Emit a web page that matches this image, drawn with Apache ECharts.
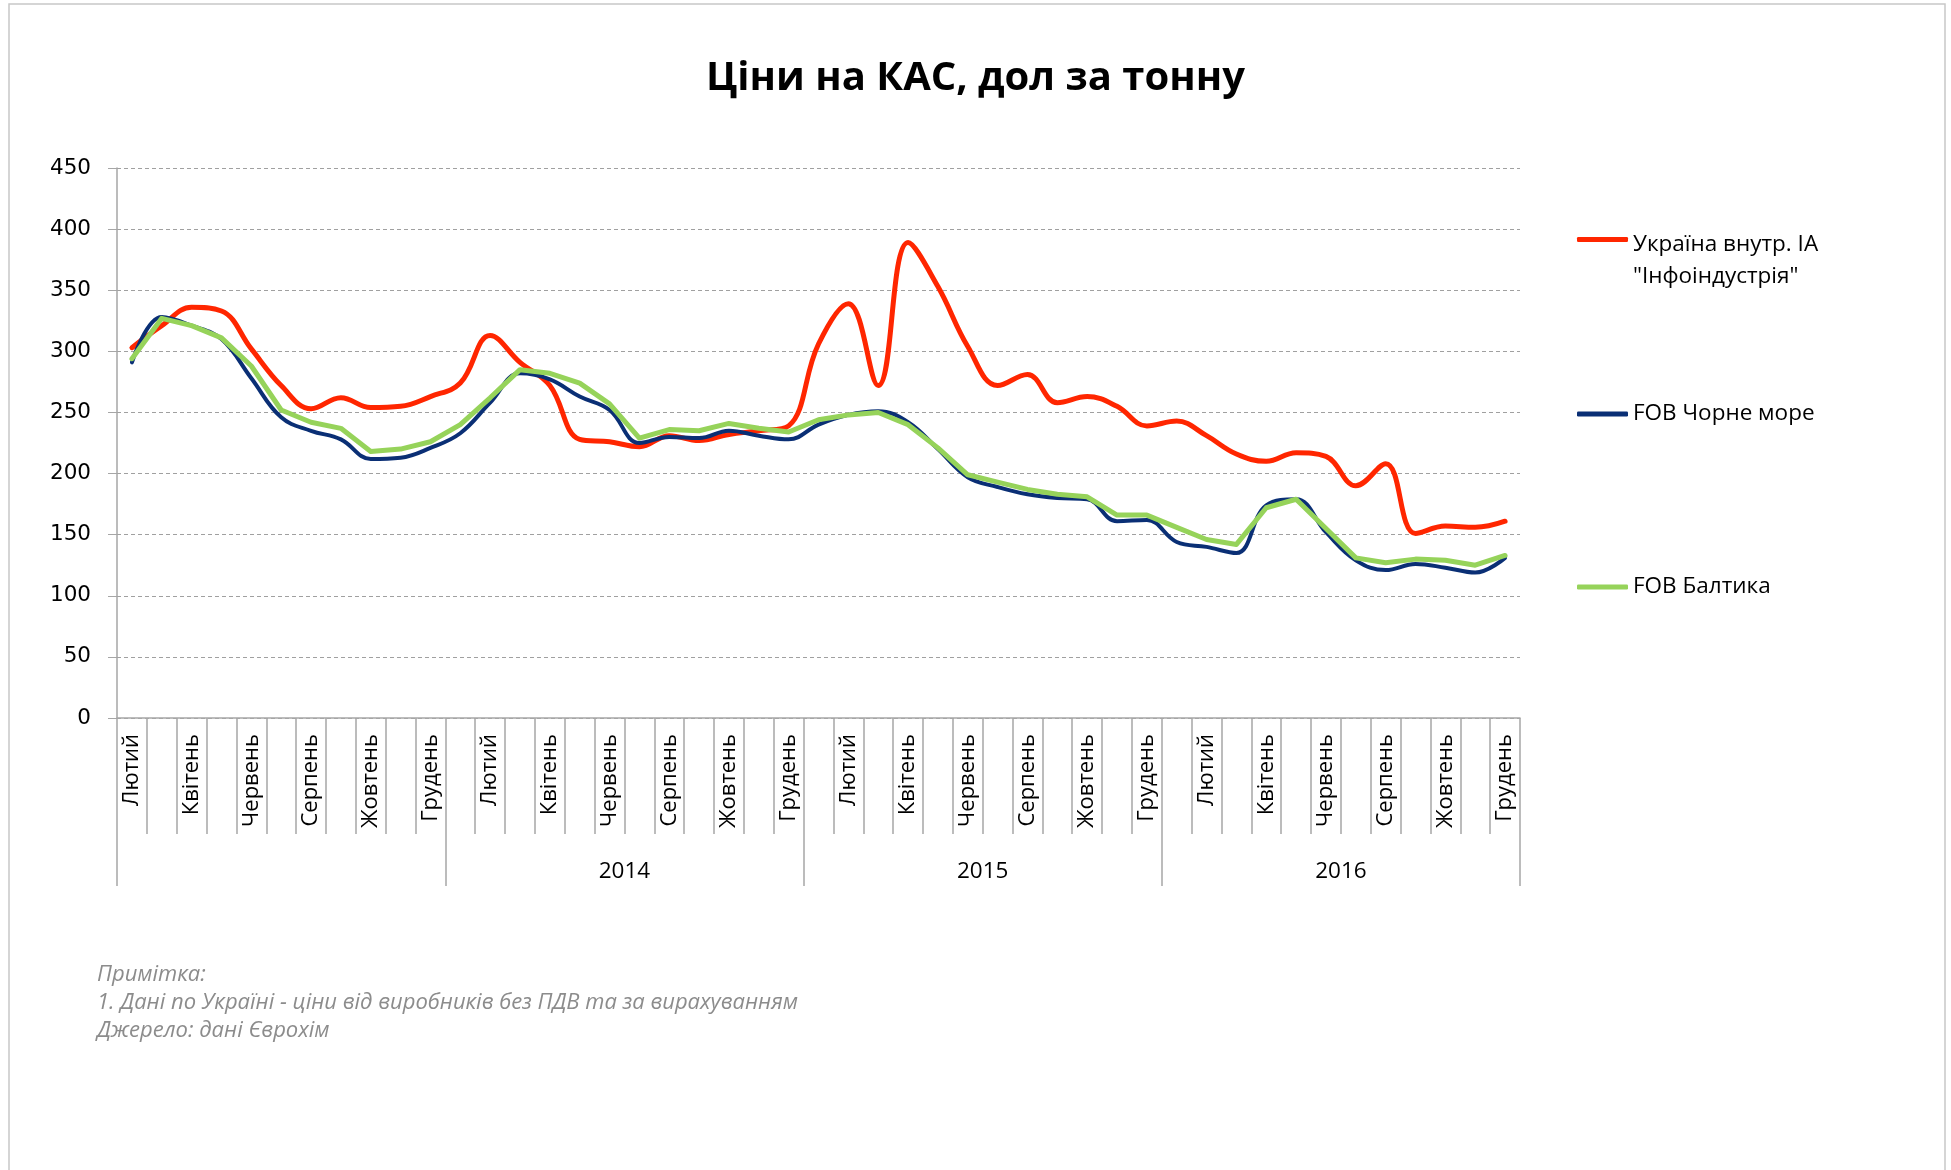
<!DOCTYPE html>
<html>
<head>
<meta charset="utf-8">
<style>
  html, body { margin: 0; padding: 0; background: #fff; }
  #chart { width: 1951px; height: 1170px; }
</style>
<script src="https://cdn.jsdelivr.net/npm/echarts@6/dist/echarts.min.js"></script>
</head>
<body>
<div id="chart"></div>
<script>
// ---- Data (Feb 2013 – Dec 2016) ----
const months = [
  'Лютий','Березень','Квітень','Травень','Червень','Липень','Серпень','Вересень','Жовтень','Листопад','Грудень',
  'Січень','Лютий','Березень','Квітень','Травень','Червень','Липень','Серпень','Вересень','Жовтень','Листопад','Грудень',
  'Січень','Лютий','Березень','Квітень','Травень','Червень','Липень','Серпень','Вересень','Жовтень','Листопад','Грудень',
  'Січень','Лютий','Березень','Квітень','Травень','Червень','Липень','Серпень','Вересень','Жовтень','Листопад','Грудень'
];
const yearLabels = ['', '2014', '2015', '2016'];
const yearMonthCounts = [11, 12, 12, 12];

const seriesNames = ['Україна внутр. ІА\n"Інфоіндустрія"', 'FOB Чорне море', 'FOB Балтика'];
const ukraine = [303,321,336,333,302,272,253,262,254,255,263,274,
                 313,291,272,228,226,222,231,227,232,235,239,306,
                 339,272,389,353,304,272,281,258,263,255,239,243,
                 231,216,210,217,214,190,208,151,157,156,161];
const blackSea = [291,328,321,310,278,246,235,228,212,213,221,233,
                  258,282,277,263,252,225,230,229,235,231,228,240,
                  248,251,242,220,197,189,183,180,179,161,162,144,
                  140,135,174,179,152,129,121,126,123,119,131];
const baltic = [294,327,321,311,288,252,242,237,218,220,226,240,
                262,285,282,274,257,229,236,235,241,237,234,244,
                248,250,240,221,199,193,187,183,181,166,166,156,
                146,142,172,179,155,131,127,130,129,125,133];

const titleText = 'Ціни на КАС, дол за тонну';
const noteText = 'Примітка:\n1. Дані по Україні - ціни від виробників без ПДВ та за вирахуванням\nДжерело: дані Єврохім';

// year boundaries / midpoints derived from month counts
const yearBounds = [0];
yearMonthCounts.forEach(c => yearBounds.push(yearBounds[yearBounds.length - 1] + c));
const yearMids = yearMonthCounts.map((c, i) => yearBounds[i] + c / 2);
const yearLabelPos = yearMids.filter((m, i) => yearLabels[i] !== '');

const chart = echarts.init(document.getElementById('chart'));
const gridColor = '#A6A6A6';
const colors = ['#FF2600', '#0A2F75', '#96D35A'];
const legendFont = { fontFamily: 'Open Sans', fontSize: 22.5, color: '#000' };

chart.setOption({
  backgroundColor: '#fff',
  animation: false,
  graphic: [{
    type: 'rect', silent: true,
    shape: { x: 9, y: 4, width: 1936, height: 1200 },
    style: { fill: 'none', stroke: '#C8C8C8', lineWidth: 1.5 }
  }],
  title: [{
    text: titleText, left: 'center', top: 54,
    textStyle: { fontFamily: 'Open Sans', fontWeight: 'bold', fontSize: 40, color: '#000' }
  }, {
    text: noteText, left: 92, top: 956,
    textStyle: { fontFamily: 'Open Sans', fontStyle: 'italic', fontWeight: 'normal', fontSize: 22, lineHeight: 28, color: '#8C8C8C' }
  }],
  legend: [{
    data: [seriesNames[0]], left: 1577, top: 196, padding: 0,
    icon: 'roundRect', itemWidth: 51, itemHeight: 5, itemGap: 8,
    formatter: name => '{e| }\n' + name.split('\n').map(s => '{l|' + s + '}').join('\n'),
    textStyle: Object.assign({}, legendFont, {
      rich: {
        e: Object.assign({}, legendFont, { lineHeight: 42 }),
        l: Object.assign({}, legendFont, { lineHeight: 32 })
      }
    })
  }, {
    data: [seriesNames[1]], left: 1577, top: 401, padding: 0,
    icon: 'roundRect', itemWidth: 51, itemHeight: 5, itemGap: 8,
    textStyle: Object.assign({}, legendFont, { lineHeight: 26 })
  }, {
    data: [seriesNames[2]], left: 1577, top: 574, padding: 0,
    icon: 'roundRect', itemWidth: 51, itemHeight: 5, itemGap: 8,
    textStyle: Object.assign({}, legendFont, { lineHeight: 26 })
  }],
  grid: { left: 117, right: 431, top: 168, bottom: 452, containLabel: false },
  xAxis: [{
    type: 'category', data: months, boundaryGap: true, position: 'bottom',
    axisLine: { show: true, lineStyle: { color: gridColor, width: 1.5 } },
    axisTick: { show: true, interval: 0, length: 116, lineStyle: { color: gridColor, width: 1.5 } },
    axisLabel: { interval: 1, rotate: 90, margin: 16, fontFamily: 'Open Sans', fontSize: 22, color: '#000' },
    splitLine: { show: false }
  }, {
    type: 'value', min: 0, max: yearBounds[yearBounds.length - 1], position: 'bottom',
    axisLine: { show: false },
    axisTick: { show: true, length: 168, customValues: yearBounds, lineStyle: { color: gridColor, width: 1.5 } },
    axisLabel: {
      show: true, margin: 142, customValues: yearLabelPos,
      fontFamily: 'Open Sans', fontSize: 22.5, color: '#000',
      formatter: v => { const i = yearMids.indexOf(v); return i >= 0 ? yearLabels[i] : ''; }
    },
    splitLine: { show: false }
  }],
  yAxis: {
    type: 'value', min: 0, max: 450, interval: 50,
    axisLine: { show: true, lineStyle: { color: gridColor, width: 1.5 } },
    axisTick: { show: true, length: 9, lineStyle: { color: gridColor } },
    axisLabel: { margin: 26, fontFamily: 'DejaVu Sans', fontSize: 21.5, color: '#000' },
    splitLine: { show: true, lineStyle: { color: '#A0A0A0', type: [4, 3], width: 1 } }
  },
  series: [{
    name: seriesNames[0], type: 'line', data: ukraine, xAxisIndex: 0,
    smooth: 0.4, symbol: 'none', color: colors[0],
    lineStyle: { width: 5, color: colors[0], cap: 'round', join: 'round' }
  }, {
    name: seriesNames[1], type: 'line', data: blackSea, xAxisIndex: 0,
    smooth: 0.4, symbol: 'none', color: colors[1],
    lineStyle: { width: 4, color: colors[1], cap: 'round', join: 'round' }
  }, {
    name: seriesNames[2], type: 'line', data: baltic, xAxisIndex: 0,
    smooth: false, symbol: 'none', color: colors[2],
    lineStyle: { width: 5, color: colors[2], cap: 'round', join: 'round' }
  }]
});
</script>
</body>
</html>
